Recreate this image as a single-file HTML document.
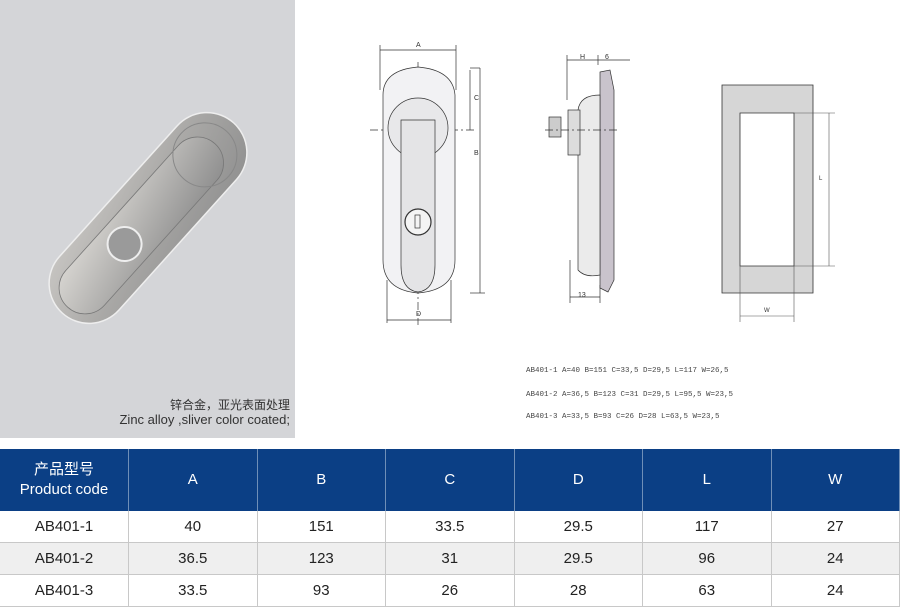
<!DOCTYPE html>
<html><head><meta charset="utf-8"><style>
body{margin:0;width:900px;height:609px;background:#fff;overflow:hidden;font-family:"Liberation Sans","Noto Sans CJK SC",sans-serif;position:relative}
table{position:absolute;left:0;top:449px;width:900px;border-collapse:collapse;table-layout:fixed}
td{text-align:center;font-size:15px;color:#222;border-right:1px solid #c8c8c8;border-bottom:1px solid #c8c8c8;height:31px;padding:0}
tr.h td{background:#0b3f85;color:#fff;height:62px;border-right:1px solid #6f8fb8;border-bottom:none;font-size:15px;line-height:20px}
tr.g td{background:#efefef}
</style></head><body>
<div style="position:absolute;left:0;top:0;width:295px;height:438px;background:#d4d5d8"></div>
<svg width="900" height="449" style="position:absolute;left:0;top:0">
<defs>
<linearGradient id="m" x1="0" y1="1" x2="1" y2="0"><stop offset="0" stop-color="#c9c7c4"/><stop offset=".5" stop-color="#a9a8a6"/><stop offset="1" stop-color="#8f8f8f"/></linearGradient>
<linearGradient id="h" x1="0" y1="1" x2="1" y2="0"><stop offset="0" stop-color="#d8d6d2"/><stop offset="1" stop-color="#8d8d8d"/></linearGradient>
</defs>
<g transform="translate(148,218) rotate(42)">
<rect x="-40" y="-128" width="80" height="256" rx="40" fill="url(#m)" stroke="#eee" stroke-width="1.5"/>
<rect x="-26" y="-100" width="52" height="220" rx="26" fill="url(#h)" stroke="#777" stroke-width=".8"/>
<circle cx="0" cy="-85" r="32" fill="none" stroke="#888"/>
<circle cx="0" cy="35" r="17" fill="#9a9a9a" stroke="#eee" stroke-width="2"/>
</g>
<text x="290" y="409" font-size="12" text-anchor="end" fill="#333" font-family="Liberation Sans,Noto Sans CJK SC,sans-serif">锌合金，亚光表面处理</text>
<text x="290" y="424" font-size="13" text-anchor="end" fill="#333" font-family="Liberation Sans,sans-serif">Zinc alloy ,sliver color coated;</text>
<g stroke="#333" stroke-width=".7" fill="none">
<line x1="380" y1="45" x2="380" y2="90"/><line x1="456" y1="45" x2="456" y2="90"/><line x1="380" y1="50" x2="456" y2="50"/>
<line x1="387" y1="320" x2="451" y2="320"/><line x1="387" y1="280" x2="387" y2="323"/><line x1="451" y1="280" x2="451" y2="323"/>
<line x1="470" y1="68" x2="480" y2="68"/><line x1="470" y1="293" x2="485" y2="293"/><line x1="480" y1="68" x2="480" y2="293"/><line x1="470" y1="70" x2="470" y2="130"/>
<line x1="370" y1="130" x2="475" y2="130" stroke-dasharray="8 3 2 3"/><line x1="418" y1="62" x2="418" y2="325" stroke-dasharray="8 3 2 3"/>
<path d="M383 95 Q383 70 418 67 Q453 70 455 95 L455 260 Q455 290 418 293 Q383 290 383 260 Z" fill="#f2f2f4"/>
<circle cx="418" cy="128" r="30" fill="#e8e8ea"/>
<path d="M401 120 L435 120 L435 265 Q435 290 418 292 Q401 290 401 265 Z" fill="#e4e4e6"/>
<circle cx="418" cy="222" r="13" fill="#f4f4f4" stroke-width="1.2"/><rect x="415" y="215" width="5" height="13"/>
</g>
<g fill="#333" font-size="7" font-family="Liberation Sans,sans-serif"><text x="416" y="47">A</text><text x="416" y="316">D</text><text x="474" y="100">C</text><text x="474" y="155">B</text><text x="580" y="59">H</text><text x="605" y="59">6</text><text x="578" y="297">13</text></g>
<g stroke="#333" stroke-width=".7" fill="none">
<line x1="567" y1="60" x2="630" y2="60"/><line x1="567" y1="55" x2="567" y2="100"/><line x1="598" y1="55" x2="598" y2="65"/>
<line x1="570" y1="297" x2="600" y2="297"/><line x1="570" y1="260" x2="570" y2="303"/><line x1="600" y1="285" x2="600" y2="303"/>
<path d="M600 72 L610 70 L614 90 L614 280 L608 292 L600 288 Z" fill="#c9c3cc"/>
<path d="M578 110 Q580 95 600 95 L600 275 Q585 278 578 270 Z" fill="#ebebeb"/>
<rect x="568" y="110" width="12" height="45" fill="#dcdcdc"/>
<rect x="549" y="117" width="12" height="20" fill="#ccc"/>
<line x1="545" y1="130" x2="620" y2="130" stroke-dasharray="8 3 2 3"/>
</g>
<g stroke="#333" stroke-width=".8">
<path d="M722 85 L813 85 L813 293 L722 293 Z M740 113 L740 266 L794 266 L794 113 Z" fill="#d6d6d6" fill-rule="evenodd"/>
</g>
<g stroke="#555" stroke-width=".6" fill="none">
<line x1="794" y1="113" x2="835" y2="113"/><line x1="794" y1="266" x2="835" y2="266"/><line x1="829" y1="113" x2="829" y2="266"/>
<line x1="740" y1="266" x2="740" y2="322"/><line x1="794" y1="266" x2="794" y2="322"/><line x1="740" y1="316" x2="794" y2="316"/>
</g>
<text x="764" y="312" font-size="6" fill="#333">W</text><text x="819" y="180" font-size="6" fill="#333">L</text>
<g fill="#444" font-size="7.5" font-family="Liberation Mono,monospace">
<text x="526" y="372">AB401-1  A=40 B=151 C=33,5 D=29,5 L=117 W=26,5</text>
<text x="526" y="396">AB401-2  A=36,5 B=123 C=31 D=29,5 L=95,5 W=23,5</text>
<text x="526" y="418">AB401-3  A=33,5 B=93 C=26 D=28 L=63,5 W=23,5</text>
</g>
</svg>
<table>
<tr class="h"><td>产品型号<br>Product code</td><td>A</td><td>B</td><td>C</td><td>D</td><td>L</td><td>W</td></tr>
<tr><td>AB401-1</td><td>40</td><td>151</td><td>33.5</td><td>29.5</td><td>117</td><td>27</td></tr>
<tr class="g"><td>AB401-2</td><td>36.5</td><td>123</td><td>31</td><td>29.5</td><td>96</td><td>24</td></tr>
<tr><td>AB401-3</td><td>33.5</td><td>93</td><td>26</td><td>28</td><td>63</td><td>24</td></tr>
</table>
</body></html>
